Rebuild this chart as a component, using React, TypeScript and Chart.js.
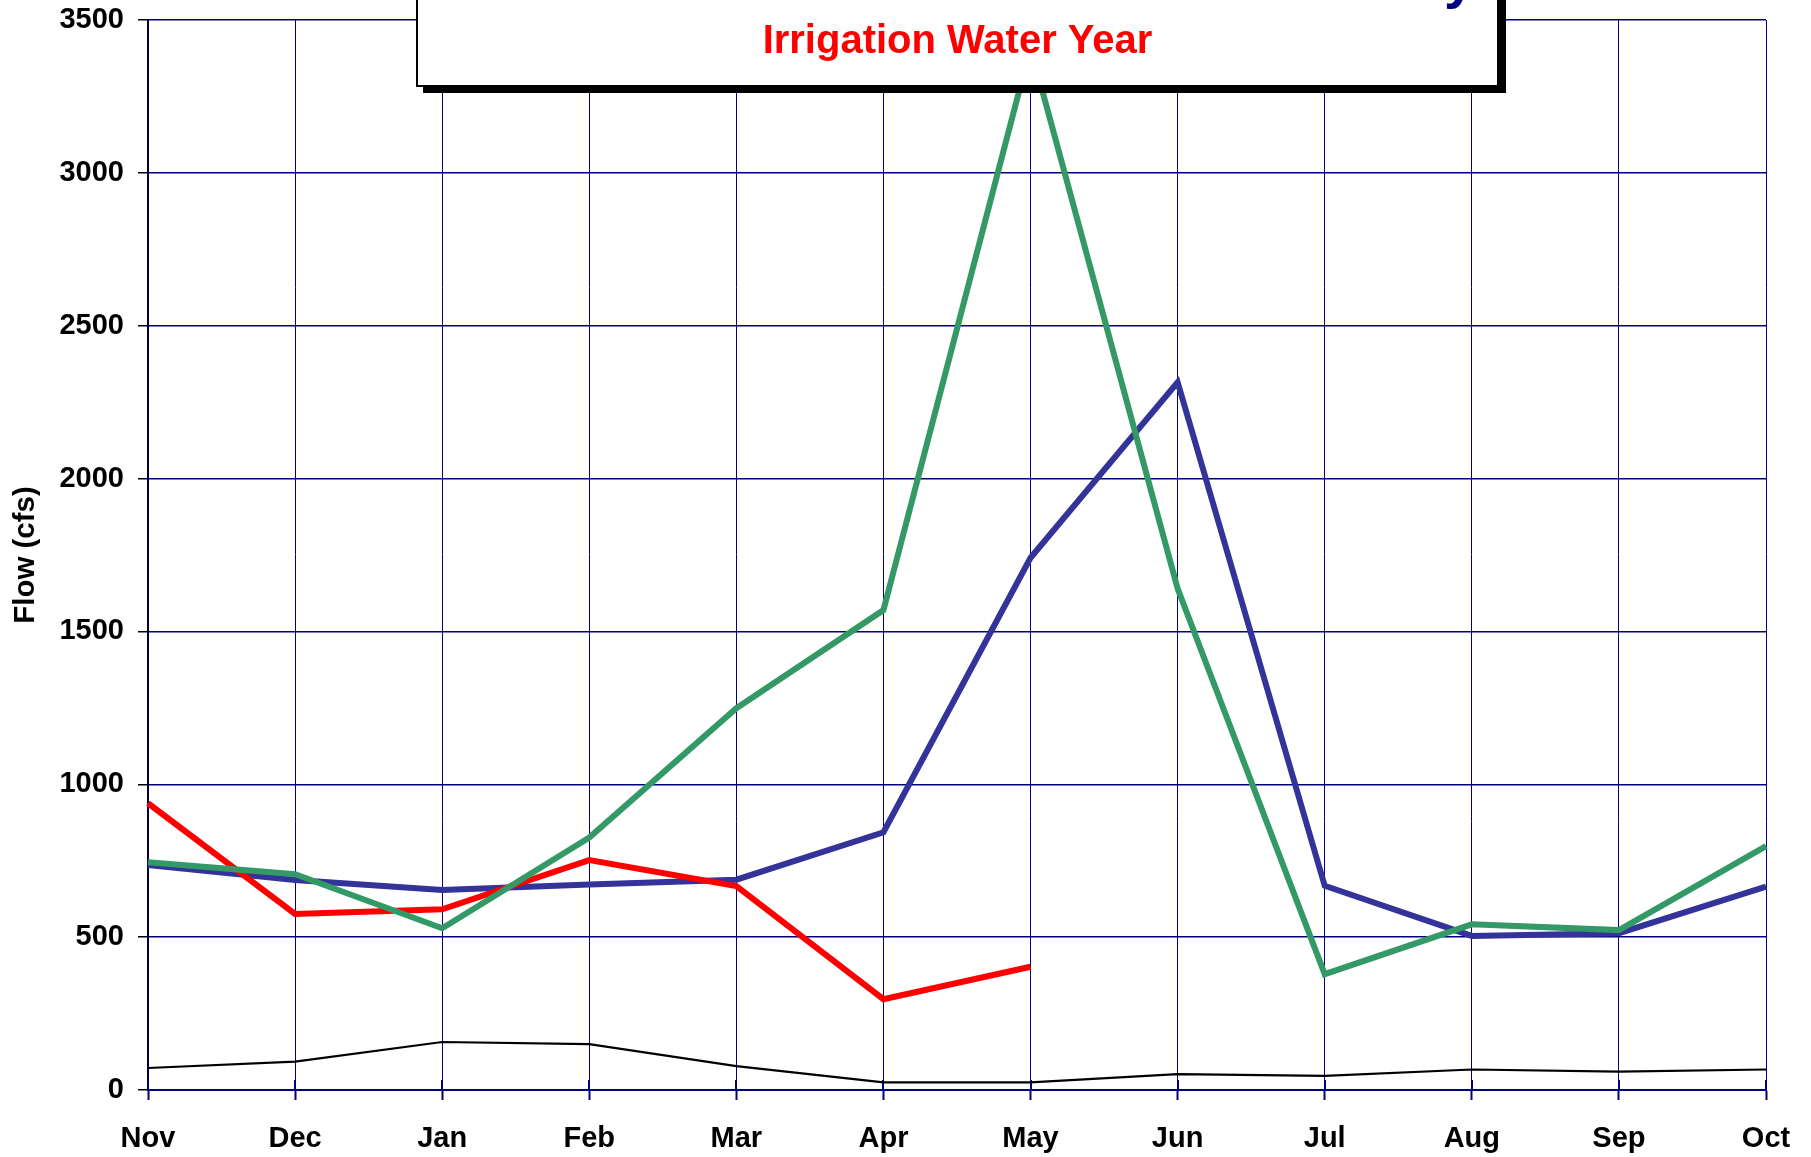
import React, { useEffect, useRef } from "react";
import { Chart, registerables } from "chart.js";

Chart.register(...registerables);

const months = ["Nov", "Dec", "Jan", "Feb", "Mar", "Apr", "May", "Jun", "Jul", "Aug", "Sep", "Oct"];
const greenSeries = [745, 706, 529, 826, 1249, 1570, 3410, 1640, 379, 542, 523, 798];
const redSeries: (number | null)[] = [938, 576, 591, 752, 667, 297, 403, null, null, null, null, null];
const blueSeries = [736, 687, 654, 672, 688, 843, 1741, 2315, 668, 504, 513, 665];
const blackSeries = [72, 93, 157, 150, 78, 25, 25, 52, 46, 67, 60, 67];
const yMin = 0;
const yMax = 3500;
const yStep = 500;
const subtitleText = "Irrigation Water Year";
const clippedTitleTail = "y";
const axisTitleText = "Flow (cfs)";

const FONT = '"Liberation Sans", Arial, Helvetica, sans-serif';

const crossTicksPlugin = {
  id: "crossTicks",
  beforeDatasetsDraw(chart: any) {
    const { ctx, chartArea } = chart;
    const xs = chart.scales.x;
    ctx.save();
    ctx.strokeStyle = "#000080";
    ctx.lineWidth = 2;
    for (let i = 0; i < months.length; i++) {
      const x = Math.round(xs.getPixelForValue(i));
      ctx.beginPath();
      ctx.moveTo(x, chartArea.bottom - 10);
      ctx.lineTo(x, chartArea.bottom);
      ctx.stroke();
    }
    ctx.restore();
  },
};

const titleBoxPlugin = {
  id: "titleBox",
  afterDraw(chart: any) {
    const { ctx } = chart;
    ctx.save();
    // shadow
    ctx.fillStyle = "#000000";
    ctx.fillRect(423, -10, 1083, 103);
    // box
    ctx.fillStyle = "#ffffff";
    ctx.fillRect(416, -10, 1083, 96);
    ctx.strokeStyle = "#000000";
    ctx.lineWidth = 2;
    ctx.strokeRect(417, -10, 1081, 96);
    // clipped main title fragment
    ctx.fillStyle = "#000080";
    ctx.font = `bold 56px ${FONT}`;
    ctx.textBaseline = "alphabetic";
    ctx.textAlign = "left";
    ctx.fillText(clippedTitleTail, 1444, -3);
    // subtitle
    ctx.fillStyle = "#ff0000";
    ctx.font = `bold 40px ${FONT}`;
    ctx.textAlign = "center";
    ctx.fillText(subtitleText, 957.5, 53);
    ctx.restore();
  },
};

export default function App() {
  const canvasRef = useRef<HTMLCanvasElement | null>(null);

  useEffect(() => {
    const canvas = canvasRef.current;
    if (!canvas) return;
    const chart = new Chart(canvas, {
      type: "line",
      data: {
        labels: months,
        datasets: [
          {
            label: "Series A",
            data: greenSeries,
            borderColor: "#339966",
            backgroundColor: "#339966",
            borderWidth: 6,
            pointRadius: 0,
            tension: 0,
            fill: false,
          },
          {
            label: "Series B",
            data: redSeries,
            borderColor: "#ff0000",
            backgroundColor: "#ff0000",
            borderWidth: 6,
            pointRadius: 0,
            tension: 0,
            fill: false,
            spanGaps: false,
          },
          {
            label: "Series C",
            data: blueSeries,
            borderColor: "#333399",
            backgroundColor: "#333399",
            borderWidth: 6,
            pointRadius: 0,
            tension: 0,
            fill: false,
          },
          {
            label: "Series D",
            data: blackSeries,
            borderColor: "#000000",
            backgroundColor: "#000000",
            borderWidth: 2.2,
            pointRadius: 0,
            tension: 0,
            fill: false,
          },
        ],
      },
      options: {
        responsive: false,
        animation: false,
        layout: { padding: { left: 0, right: 45, top: 20, bottom: 0 } },
        plugins: {
          legend: { display: false },
          tooltip: { enabled: false },
          title: { display: false },
        },
        scales: {
          x: {
            type: "category",
            offset: false,
            grid: {
              color: "#000080",
              lineWidth: 1,
              drawTicks: true,
              tickLength: 10,
              tickColor: "#000080",
              tickWidth: 2,
            },
            border: { color: "#000080", width: 2 },
            ticks: {
              color: "#000000",
              font: { family: FONT, size: 29, weight: "bold" },
              padding: 22,
              maxRotation: 0,
              autoSkip: false,
            },
            afterFit: (s: any) => {
              s.height = 67;
              s.paddingLeft = 0;
              s.paddingRight = 0;
            },
          },
          y: {
            min: yMin,
            max: yMax,
            grid: {
              color: "#000080",
              lineWidth: 1.5,
              drawTicks: true,
              tickLength: 10,
              tickColor: "#000000",
              tickWidth: 1.5,
            },
            border: { color: "#000040", width: 2 },
            ticks: {
              stepSize: yStep,
              color: "#000000",
              font: { family: FONT, size: 29, weight: "bold" },
              padding: 14,
              callback: (v: any) => String(v),
            },
            title: {
              display: true,
              text: axisTitleText,
              color: "#000000",
              font: { family: FONT, size: 29.5, weight: "bold" },
              padding: { top: 8, bottom: 0 },
            },
            afterFit: (s: any) => {
              s.width = 148;
              s.paddingTop = 0;
              s.paddingBottom = 0;
            },
          },
        },
      },
      plugins: [crossTicksPlugin, titleBoxPlugin],
    } as any);
    return () => chart.destroy();
  }, []);

  return (
    <div style={{ position: "absolute", left: 0, top: 0, width: 1811, height: 1157, background: "#ffffff" }}>
      <canvas ref={canvasRef} width={1811} height={1157} style={{ display: "block" }} />
    </div>
  );
}
